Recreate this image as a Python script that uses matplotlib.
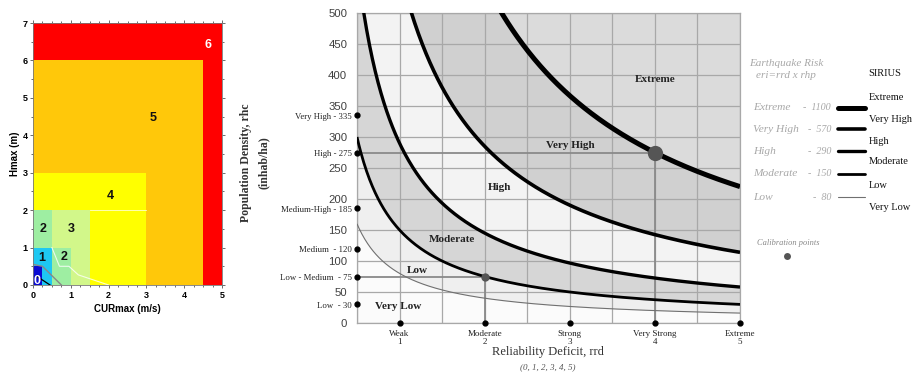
import matplotlib
matplotlib.use('Agg')
import matplotlib.pyplot as plt
import numpy as np

# left panel: hazard classes (CURmax, Hmax)
zone_names = ['6', '5', '4', '3', '2', '2', '1', '0']
zone_cur_max = [5, 4.5, 3, 1.5, 0.5, 1, 0.5, 0.25]
zone_h_max = [7, 6, 3, 2, 2, 1, 1, 0.5]
zone_colors = ['#ff0000', '#ffc80a', '#ffff00', '#d2f78a', '#9eeea2', '#9eeea2', '#1ec8f2', '#0a0ad2']
label_cur = [4.62, 3.17, 2.04, 1.0, 0.26, 0.82, 0.24, 0.1]
label_h = [6.4, 4.46, 2.38, 1.5, 1.5, 0.75, 0.72, 0.1]
label_white = [True, False, False, False, False, False, False, True]

white_cur = [0.5, 0.7, 0.95, 1.2, 2.0]
white_h = [1.0, 0.5, 0.5, 0.27, 0.0]
grey_cur = [0.0, 0.25, 0.75]
grey_h = [0.55, 0.5, 0.0]

# right panel: earthquake risk eri = rrd x rhp
risk_names = ['Low', 'Moderate', 'High', 'Very High', 'Extreme']
risk_levels = [80, 150, 290, 570, 1100]
risk_widths = [0.8, 2.0, 2.4, 2.6, 3.6]
risk_colors = ['#707070', 'black', 'black', 'black', 'black']
band_names = ['Very Low', 'Low', 'Moderate', 'High', 'Very High', 'Extreme']
band_colors = ['#fbfbfb', '#efefef', '#d6d6d6', '#f3f3f3', '#d0d0d0', '#dbdbdb']
band_label_x = [0.98, 1.21, 1.61, 2.18, 3.01, 4.0]
band_label_y = [27, 85, 134, 219, 287, 393]

rhp_names = ['Very High', 'High', 'Medium-High', 'Medium ', 'Low - Medium ', 'Low ']
rhp_values = [335, 275, 185, 120, 75, 30]
rrd_names = ['Weak', 'Moderate', 'Strong', 'Very Strong', 'Extreme']
rrd_values = [1, 2, 3, 4, 5]

calib_rrd = [4, 2]
calib_rhp = [275, 75]
calib_size = [11, 6]

W, H = 922, 376
fig = plt.figure(figsize=(W / 100, H / 100), dpi=100)

# ---- left panel ----
ax1 = fig.add_axes([33 / W, 1 - 285 / H, 189 / W, 262 / H])
for c, h, col in zip(zone_cur_max, zone_h_max, zone_colors):
    ax1.add_patch(plt.Rectangle((0, 0), c, h, facecolor=col, edgecolor='none'))
ax1.plot([1.5, 3], [2, 2], color='white', lw=0.6, alpha=0.8)
ax1.plot(white_cur, white_h, color='white', lw=0.8, alpha=0.8)
ax1.plot(grey_cur, grey_h, color='#888888', lw=1.0)
ax1.plot([0.12, 0.45], [0.22, 0.0], color='black', lw=0.9)
for n, x, y, w in zip(zone_names, label_cur, label_h, label_white):
    ax1.text(x, y, n, ha='center', va='center', fontsize=9, fontweight='bold',
             family='Liberation Sans', color='white' if w else '#111111')
ax1.set_xlim(0, 5)
ax1.set_ylim(0, 7)
ax1.set_xticks(range(0, 6))
ax1.set_yticks(range(0, 8))
ax1.set_xticks(np.arange(0, 5.01, 0.25), minor=True)
ax1.set_yticks(np.arange(0, 7.01, 0.5), minor=True)
ax1.tick_params(which='both', direction='out', top=True, right=True, labelsize=6.5,
                length=2.5, width=0.6, color='#555555', pad=1.5)
ax1.tick_params(which='minor', length=1.5)
for lab in ax1.get_xticklabels() + ax1.get_yticklabels():
    lab.set_fontweight('bold')
    lab.set_family('Liberation Sans')
for s in ax1.spines.values():
    s.set_color('#777777')
    s.set_linewidth(0.6)
ax1.set_xlabel('CURmax (m/s)', fontsize=7, fontweight='bold', family='Liberation Sans', labelpad=3)
ax1.set_ylabel('Hmax (m)', fontsize=7, fontweight='bold', family='Liberation Sans', labelpad=2)

# ---- right panel ----
ax2 = fig.add_axes([357 / W, 1 - 323 / H, 383 / W, 310 / H])
x = np.linspace(0.5, 5, 400)
curves = [np.zeros_like(x)] + [k / x for k in risk_levels] + [np.full_like(x, 1e4)]
for i, col in enumerate(band_colors):
    ax2.fill_between(x, curves[i], curves[i + 1], color=col, lw=0, zorder=1)
for k, lw, col in zip(risk_levels, risk_widths, risk_colors):
    ax2.plot(x, k / x, color=col, lw=lw, zorder=4, solid_capstyle='butt')

ax2.set_xlim(0.5, 5)
ax2.set_ylim(0, 500)
ax2.set_xticks(np.arange(0.5, 5.01, 0.5))
ax2.set_yticks(range(0, 501, 50))
ax2.set_xticklabels([])
ax2.grid(color='#a8a8a8', lw=0.9, zorder=2)
ax2.set_axisbelow(False)
ax2.tick_params(length=0, labelsize=8.2, labelcolor='#404040', pad=7)
for lab in ax2.get_yticklabels():
    lab.set_family('Liberation Sans')
for s in ax2.spines.values():
    s.set_color('#a8a8a8')
    s.set_linewidth(0.9)

# calibration guides
for cx, cy, ms in zip(calib_rrd, calib_rhp, calib_size):
    ax2.plot([0.5, cx], [cy, cy], color='#8a8a8a', lw=1.3, zorder=3)
    ax2.plot([cx, cx], [0, cy], color='#8a8a8a', lw=1.3, zorder=3)
    ax2.plot(cx, cy, 'o', color='#555555', ms=ms, mew=0, zorder=5)

for nm, bx, by in zip(band_names, band_label_x, band_label_y):
    ax2.text(bx, by, nm, ha='center', va='center', fontsize=8, fontweight='bold',
             family='Liberation Serif', color='#222222', zorder=6)

ax2.plot([0.5] * len(rhp_values), rhp_values, 'o', color='black', ms=3.5, clip_on=False, zorder=6)
for nm, v in zip(rhp_names, rhp_values):
    ax2.annotate(f'{nm} - {v}', xy=(0.5, v), xytext=(-3.5, -1), textcoords='offset points',
                 ha='right', va='center', fontsize=6.3, family='Liberation Serif', color='#222222')

ax2.plot(rrd_values, [0] * len(rrd_values), 'o', color='black', ms=3.5, clip_on=False, zorder=6)
for nm, v in zip(rrd_names, rrd_values):
    ax2.annotate(f'{nm}\n{v}', xy=(v, 0), xytext=(0, -5), textcoords='offset points',
                 ha='center', va='top', fontsize=6.5, family='Liberation Serif',
                 color='#222222', linespacing=1.0)

fig.text(548 / W, 1 - 352 / H, 'Reliability Deficit, rrd', ha='center', va='center',
         fontsize=9, family='Liberation Serif', color='#333333')
fig.text(548 / W, 1 - 367 / H, '(0, 1, 2, 3, 4, 5)', ha='center', va='center',
         fontsize=6.5, family='Liberation Serif', style='italic', color='#555555')
fig.text(255 / W, 1 - 163 / H, 'Population Density, rhc\n(inhab/ha)', ha='center', va='center',
         rotation=90, fontsize=8.5, fontweight='bold', family='Liberation Serif',
         color='#333333', multialignment='center', linespacing=1.6)

# ---- legend area (pixel coordinates) ----
lg = fig.add_axes([0, 0, 1, 1])
lg.set_xlim(0, W)
lg.set_ylim(H, 0)
lg.axis('off')
grey = '#a8a8a8'
lg.text(786, 64, 'Earthquake Risk', ha='center', va='center', fontsize=8,
        family='Liberation Serif', style='italic', color=grey)
lg.text(786, 75, 'eri=rrd x rhp', ha='center', va='center', fontsize=8,
        family='Liberation Serif', style='italic', color=grey)
leg_y = [197, 174, 151, 129, 108]
for nm, k, lw, col, y in zip(risk_names, risk_levels, risk_widths, risk_colors, leg_y):
    lg.text(753, y, nm, ha='left', va='center', fontsize=8.2, family='Liberation Serif',
            style='italic', color=grey)
    lg.text(831, y, f'-  {k}', ha='right', va='center', fontsize=7.2, family='Liberation Serif',
            style='italic', color=grey)
    lg.plot([838, 865], [y, y], color=col, lw=lw, solid_capstyle='round')
lg.text(868, 73, 'SIRIUS', ha='left', va='center', fontsize=7.5, family='Liberation Serif', color='#111111')
sirius_y = [208, 185, 162, 141, 120, 98]
for nm, y in zip(band_names, sirius_y):
    lg.text(869, y, nm, ha='left', va='center', fontsize=7.5, family='Liberation Serif', color='#111111')
lg.text(788, 243, 'Calibration points', ha='center', va='center', fontsize=6,
        family='Liberation Serif', style='italic', color='#888888')
lg.plot(787, 256, 'o', color='#555555', ms=5, mew=0)

fig.savefig('out.png', dpi=100)
